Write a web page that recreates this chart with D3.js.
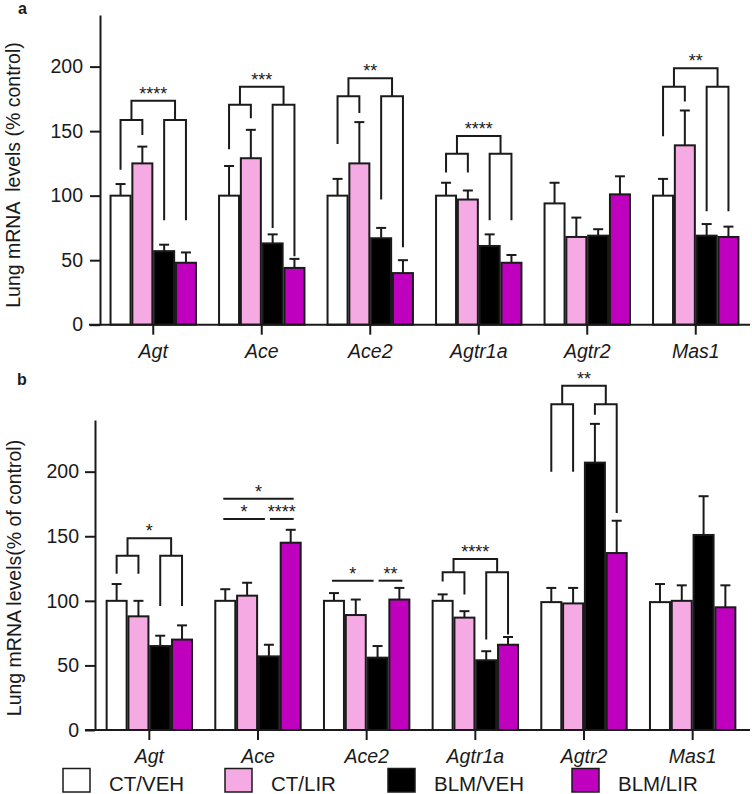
<!DOCTYPE html>
<html>
<head>
<meta charset="utf-8">
<script src="https://cdn.jsdelivr.net/npm/d3@7"></script>
<style>
  html, body { margin: 0; padding: 0; background: #fff; }
  svg { display: block; font-family: "Liberation Sans", Arial, sans-serif; }
</style>
</head>
<body>
<svg id="chart" width="752" height="794"></svg>
<script>
// ---------- DATA ----------
const genes = ["Agt", "Ace", "Ace2", "Agtr1a", "Agtr2", "Mas1"];
const groups = ["CT/VEH", "CT/LIR", "BLM/VEH", "BLM/LIR"];
const groupColors = ["#ffffff", "#f5aae3", "#000000", "#bf00bf"];
const yTicks = [0, 50, 100, 150, 200];

// Panel a: mean and error top (mean + SEM), per gene, per group
const aMeans = [
  [100, 125, 57, 48],
  [100, 129, 63, 44],
  [100, 125, 67, 40],
  [100, 97, 61, 48],
  [94, 68, 69, 101],
  [100, 139, 69, 68]
];
const aErrTop = [
  [109, 138, 62, 56],
  [123, 151, 70, 51],
  [113, 157, 75, 50],
  [110, 104, 70, 54],
  [110, 83, 74, 115],
  [113, 166, 78, 76]
];

// Panel b
const bMeans = [
  [100, 88, 65, 70],
  [100, 104, 57, 145],
  [100, 89, 56, 101],
  [100, 87, 54, 66],
  [99, 98, 207, 137],
  [99, 100, 151, 95]
];
const bErrTop = [
  [113, 100, 73, 81],
  [109, 114, 66, 155],
  [106, 101, 65, 110],
  [105, 92, 61, 72],
  [110, 110, 237, 162],
  [113, 112, 181, 112]
];

// Nested comparison brackets: gene, left bracket height, right bracket height,
// leg bottoms for the 4 bars, top bracket height, label
const aBrackets = [
  { gene: "Agt",    left: 158.6, right: 158.6, legs: [120, 147, 81, 81],   top: 173.6, label: "****" },
  { gene: "Ace",    left: 170.5, right: 170.5, legs: [136, 160, 75, 53],   top: 184.4, label: "***" },
  { gene: "Ace2",   left: 177,   right: 177,   legs: [140, 164, 97, 60],   top: 191,   label: "**" },
  { gene: "Agtr1a", left: 132.5, right: 132.5, legs: [118, 118, 81, 81],   top: 146.2, label: "****" },
  { gene: "Mas1",   left: 184.4, right: 184.4, legs: [146, 173, 88, 88],   top: 198.7, label: "**" }
];
const bBrackets = [
  { gene: "Agt",    left: 134.9, right: 134.9, legs: [121, 121, 96, 96],   top: 148.4, label: "*" },
  { gene: "Agtr1a", left: 122.1, right: 122.1, legs: [115, 105, 70, 74],   top: 132.4, label: "****" },
  { gene: "Agtr2",  left: 252.1, right: 252.1, legs: [200, 200, 244, 168], top: 266.6, label: "**" }
];
// Simple horizontal comparison lines (panel b): gene, from bar, to bar, height, label
const bLines = [
  { gene: "Ace",  from: 0, to: 3, v: 179.1, label: "*" },
  { gene: "Ace",  from: 0, to: 2, v: 163.4, label: "*" },
  { gene: "Ace",  from: 2, to: 3, v: 163.4, label: "****" },
  { gene: "Ace2", from: 0, to: 2, v: 115.6, label: "*" },
  { gene: "Ace2", from: 2, to: 3, v: 115.6, label: "**" }
];

// ---------- DRAW ----------
const svg = d3.select("#chart");
const ink = "#1a1a1a";
const BAR_STEP = 21.8, BAR_W = 20, CAP = 10;

function panel(cfg) {
  const g = svg.append("g");
  const x = d3.scaleBand().domain(genes).range(cfg.xRange).padding(0);
  const y = d3.scaleLinear().domain([0, 240]).range(cfg.yRange);
  const cx = (gene, i) => x(gene) + x.bandwidth() / 2 + (i - 1.5) * BAR_STEP;

  // y axis
  const ya = g.append("g").attr("transform", `translate(${cfg.xRange[0] + cfg.yAxisShift},0)`)
    .call(d3.axisLeft(y).tickValues(yTicks).tickSize(10).tickSizeOuter(0).tickPadding(cfg.yPad));
  ya.selectAll("path.domain").attr("stroke", ink).attr("stroke-width", 2);
  ya.selectAll(".tick line").attr("stroke", ink).attr("stroke-width", 2);
  ya.selectAll(".tick text").attr("fill", ink).style("font-size", "19.5px")
    .style("font-family", "'Liberation Sans', Arial, sans-serif");

  // bars
  genes.forEach((gene, gi) => {
    groups.forEach((grp, i) => {
      const m = cfg.means[gi][i], e = cfg.err[gi][i];
      const c = cx(gene, i);
      g.append("line").attr("x1", c).attr("x2", c).attr("y1", y(m)).attr("y2", y(e))
        .attr("stroke", ink).attr("stroke-width", 2);
      g.append("line").attr("x1", c - CAP / 2).attr("x2", c + CAP / 2).attr("y1", y(e)).attr("y2", y(e))
        .attr("stroke", ink).attr("stroke-width", 2);
      g.append("rect").attr("x", c - BAR_W / 2).attr("y", y(m))
        .attr("width", BAR_W).attr("height", y(0) - y(m))
        .attr("fill", groupColors[i]).attr("stroke", ink).attr("stroke-width", 2);
    });
  });

  // x axis
  const xa = g.append("g").attr("transform", `translate(0,${y(0)})`)
    .call(d3.axisBottom(x).tickSize(10).tickSizeOuter(0).tickPadding(cfg.xPad));
  xa.selectAll("path.domain").remove();
  xa.append("line").attr("x1", cfg.xLineStart).attr("x2", 750).attr("y1", 0).attr("y2", 0)
    .attr("stroke", ink).attr("stroke-width", 2);
  xa.selectAll(".tick line").attr("stroke", ink).attr("stroke-width", 2);
  xa.selectAll(".tick text").attr("fill", ink).style("font-size", "19.5px").style("font-style", "italic")
    .style("font-family", "'Liberation Sans', Arial, sans-serif");

  // brackets
  const path = (pts) => g.append("path").attr("d", d3.line()(pts))
    .attr("fill", "none").attr("stroke", ink).attr("stroke-width", 2);
  const star = (xx, v, label) => g.append("text").attr("x", xx).attr("y", y(v) - 1)
    .attr("text-anchor", "middle").attr("fill", ink).style("font-size", "18px").text(label);

  cfg.brackets.forEach(b => {
    const c = [0, 1, 2, 3].map(i => cx(b.gene, i));
    path([[c[0], y(b.legs[0])], [c[0], y(b.left)], [c[1], y(b.left)], [c[1], y(b.legs[1])]]);
    path([[c[2], y(b.legs[2])], [c[2], y(b.right)], [c[3], y(b.right)], [c[3], y(b.legs[3])]]);
    const m1 = (c[0] + c[1]) / 2, m2 = (c[2] + c[3]) / 2;
    path([[m1, y(b.left)], [m1, y(b.top)], [m2, y(b.top)], [m2, y(b.right)]]);
    star((m1 + m2) / 2, b.top, b.label);
  });

  cfg.lines.forEach(l => {
    const sharedEnd = cfg.lines.some(o => o !== l && o.gene === l.gene && o.v === l.v && o.from === l.to);
    const sharedStart = cfg.lines.some(o => o !== l && o.gene === l.gene && o.v === l.v && o.to === l.from);
    const x1 = cx(l.gene, l.from) + (sharedStart ? 1 : -2);
    const x2 = cx(l.gene, l.to) + (sharedEnd ? -4 : (l.to === 3 ? 3 : 0));
    path([[x1, y(l.v)], [x2, y(l.v)]]);
    star((x1 + x2) / 2, l.v, l.label);
  });

  // y label
  g.append("text").attr("transform", `translate(${cfg.yLabelX},${cfg.yLabelY}) rotate(-90)`)
    .attr("text-anchor", "middle").attr("fill", ink).style("font-size", "19.5px")
    .style("white-space", "pre").text(cfg.yLabel);

  // panel letter
  g.append("text").attr("x", cfg.letterPos[0]).attr("y", cfg.letterPos[1])
    .attr("fill", ink).style("font-size", "16px").style("font-weight", "bold").text(cfg.letter);
}

panel({
  xRange: [99, 750], yAxisShift: 1, yRange: [324.7, 15],
  means: aMeans, err: aErrTop, brackets: aBrackets, lines: [],
  xLineStart: 89, xPad: 9, yPad: 7,
  yLabel: "Lung mRNA  levels (% control)", yLabelX: 20, yLabelY: 175,
  letter: "a", letterPos: [18, 14]
});

panel({
  xRange: [95, 747], yAxisShift: 0, yRange: [730, 420],
  means: bMeans, err: bErrTop, brackets: bBrackets, lines: bLines,
  xLineStart: 85, xPad: 9.5, yPad: 6,
  yLabel: "Lung mRNA levels(% of control)", yLabelX: 21, yLabelY: 578,
  letter: "b", letterPos: [17, 385]
});

// legend
const legendX = [63, 225, 388, 572];
const leg = svg.append("g");
groups.forEach((grp, i) => {
  leg.append("rect").attr("x", legendX[i]).attr("y", 768.5).attr("width", 27).attr("height", 23.5)
    .attr("fill", groupColors[i]).attr("stroke", ink).attr("stroke-width", 1.5);
  leg.append("text").attr("x", legendX[i] + 46).attr("y", 791).attr("fill", ink)
    .style("font-size", "20.5px").text(grp);
});
</script>
</body>
</html>
